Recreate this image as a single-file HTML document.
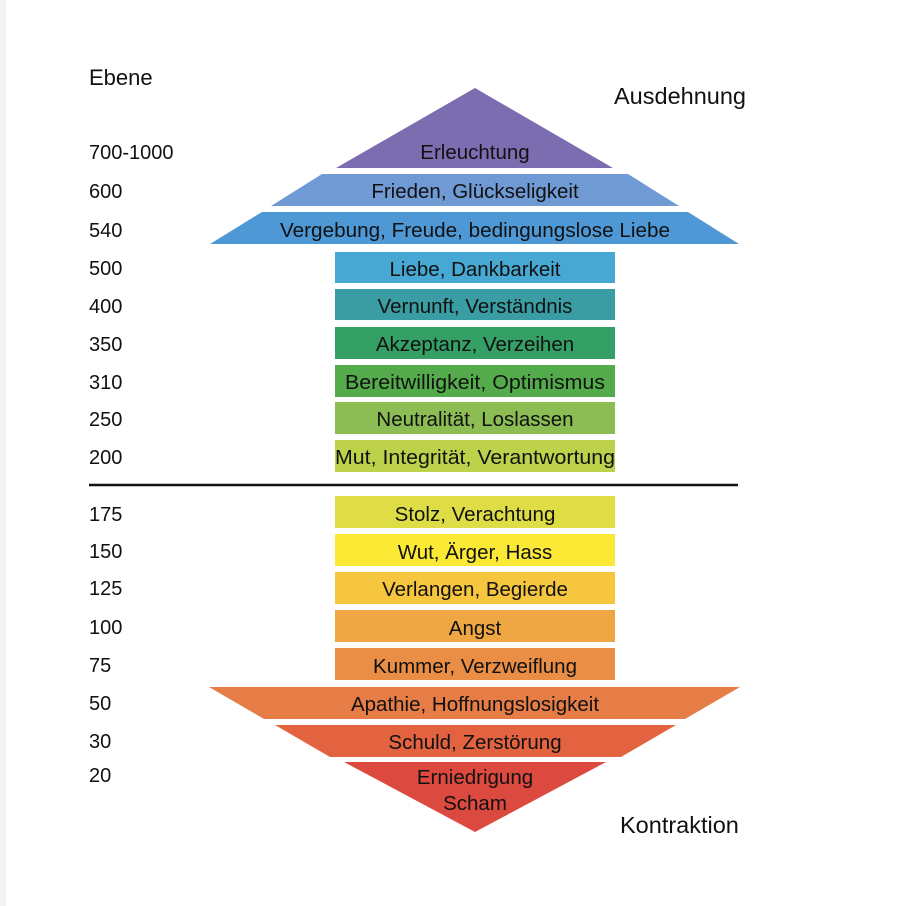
<!DOCTYPE html>
<html><head><meta charset="utf-8"><style>
html,body{margin:0;padding:0;background:#fff;}
svg{display:block}
text{font-family:"Liberation Sans",sans-serif;fill:#111;}
</style></head><body>
<svg width="906" height="906" viewBox="0 0 906 906" xmlns="http://www.w3.org/2000/svg">
<rect width="906" height="906" fill="#fff"/>
<rect x="0" y="0" width="6" height="906" fill="#f2f2f2"/>
<polygon points="475,88 613,168 336,168" fill="#7b6db0"/>
<polygon points="322,174 628,174 679,206 271,206" fill="#6f9ad3"/>
<polygon points="262,212 688,212 739,244 210,244" fill="#4e98d6"/>
<rect x="335" y="252" width="280" height="31" fill="#47a9d3"/>
<rect x="335" y="289" width="280" height="31" fill="#3a9da3"/>
<rect x="335" y="327" width="280" height="32" fill="#35a066"/>
<rect x="335" y="365" width="280" height="32" fill="#54ab4c"/>
<rect x="335" y="402" width="280" height="32" fill="#8bbd54"/>
<rect x="335" y="440" width="280" height="32" fill="#bdd24a"/>
<line x1="89" y1="485" x2="738" y2="485" stroke="#111" stroke-width="2.5"/>
<rect x="335" y="496" width="280" height="32" fill="#dedd45"/>
<rect x="335" y="534" width="280" height="32" fill="#fbe936"/>
<rect x="335" y="572" width="280" height="32" fill="#f6c63e"/>
<rect x="335" y="610" width="280" height="32" fill="#efa744"/>
<rect x="335" y="648" width="280" height="32" fill="#ea8e45"/>
<polygon points="209,687 740,687 685,719 264,719" fill="#e77d46"/>
<polygon points="275,725 676,725 621,757 330,757" fill="#e36340"/>
<polygon points="344,762 606,762 475,832" fill="#dc493e"/>
<g font-size="20.5" text-anchor="middle">
<text x="475" y="159">Erleuchtung</text>
<text x="475" y="198">Frieden, Glückseligkeit</text>
<text x="475" y="237" textLength="390" lengthAdjust="spacingAndGlyphs">Vergebung, Freude, bedingungslose Liebe</text>
<text x="475" y="276">Liebe, Dankbarkeit</text>
<text x="475" y="313">Vernunft, Verständnis</text>
<text x="475" y="351">Akzeptanz, Verzeihen</text>
<text x="475" y="389" textLength="260" lengthAdjust="spacingAndGlyphs">Bereitwilligkeit, Optimismus</text>
<text x="475" y="426">Neutralität, Loslassen</text>
<text x="475" y="464" textLength="280" lengthAdjust="spacingAndGlyphs">Mut, Integrität, Verantwortung</text>
<text x="475" y="521">Stolz, Verachtung</text>
<text x="475" y="559">Wut, Ärger, Hass</text>
<text x="475" y="596">Verlangen, Begierde</text>
<text x="475" y="635">Angst</text>
<text x="475" y="673">Kummer, Verzweiflung</text>
<text x="475" y="711">Apathie, Hoffnungslosigkeit</text>
<text x="475" y="749">Schuld, Zerstörung</text>
<text x="475" y="784">Erniedrigung</text>
<text x="475" y="810">Scham</text>
</g>
<g font-size="20">
<text x="89" y="85" font-size="22">Ebene</text>
<text x="89" y="159">700-1000</text>
<text x="89" y="198">600</text>
<text x="89" y="237">540</text>
<text x="89" y="275">500</text>
<text x="89" y="313">400</text>
<text x="89" y="351">350</text>
<text x="89" y="389">310</text>
<text x="89" y="426">250</text>
<text x="89" y="464">200</text>
<text x="89" y="521">175</text>
<text x="89" y="558">150</text>
<text x="89" y="595">125</text>
<text x="89" y="634">100</text>
<text x="89" y="672">75</text>
<text x="89" y="710">50</text>
<text x="89" y="748">30</text>
<text x="89" y="782">20</text>
</g>
<text x="614" y="104" font-size="23.5">Ausdehnung</text>
<text x="620" y="833" font-size="23.5">Kontraktion</text>
</svg>
</body></html>
